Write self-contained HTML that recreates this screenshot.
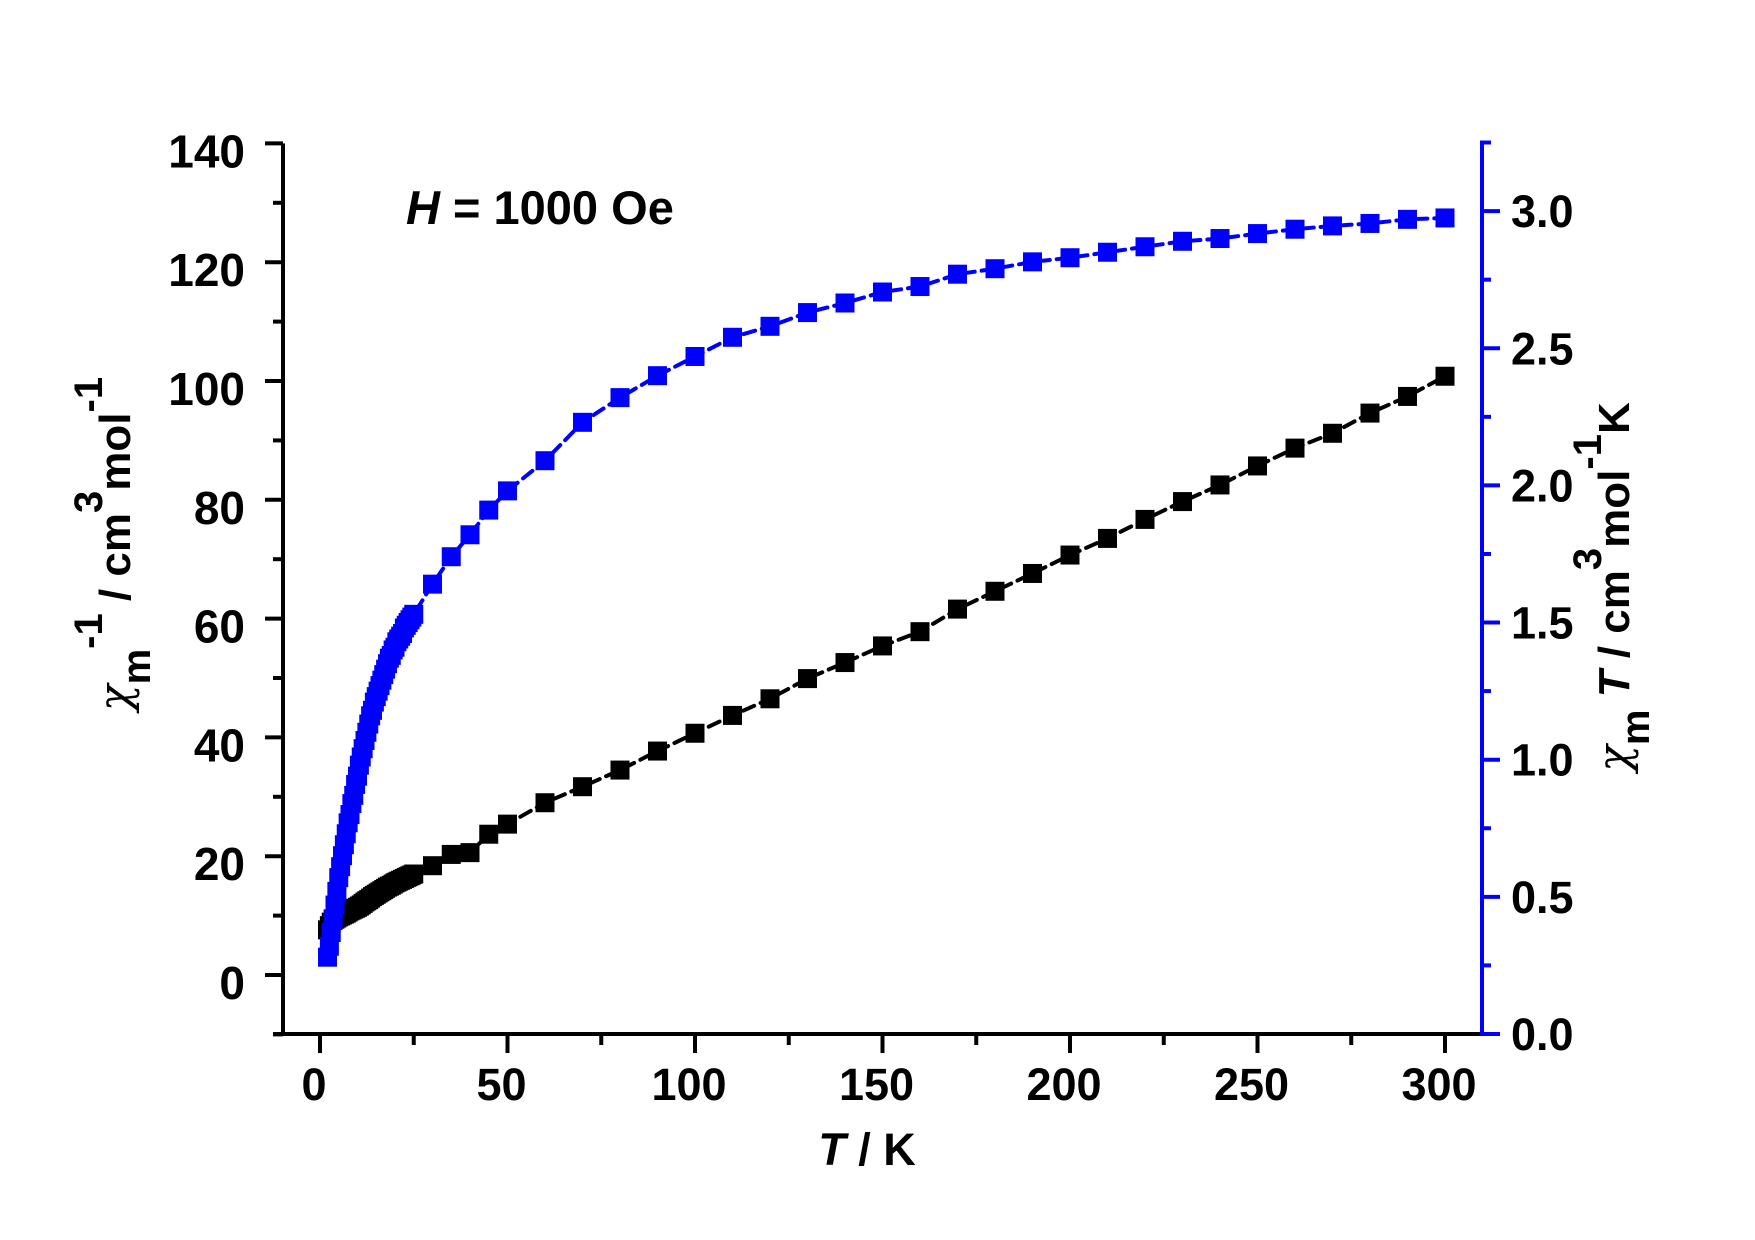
<!DOCTYPE html>
<html><head><meta charset="utf-8"><style>
html,body{margin:0;padding:0;background:#fff;}
svg{display:block;font-family:"Liberation Sans",Arial,sans-serif;font-weight:bold;}
</style></head><body>
<svg id="chart" width="1755" height="1240" viewBox="0 0 1755 1240" xmlns="http://www.w3.org/2000/svg">
<rect width="1755" height="1240" fill="#fff"/>
<g id="axes"></g>
<g id="series"></g>
<text x="406" y="224" font-size="47"><tspan font-style="italic">H</tspan> = 1000 Oe</text>
<text x="867" y="1165" font-size="45" text-anchor="middle"><tspan font-style="italic">T</tspan> / K</text>
<text transform="translate(130,544) rotate(-90)" font-size="44" text-anchor="middle"><tspan font-family="'DejaVu Serif',serif" font-style="italic" font-weight="normal">χ</tspan><tspan dy="20" font-size="40">m</tspan><tspan dy="-48" font-size="40">-1</tspan><tspan dy="28"> / cm</tspan><tspan dy="-28" font-size="40">3</tspan><tspan dy="28">mol</tspan><tspan dy="-28" font-size="40">-1</tspan></text>
<text transform="translate(1629,587) rotate(-90)" font-size="44" text-anchor="middle"><tspan font-family="'DejaVu Serif',serif" font-style="italic" font-weight="normal">χ</tspan><tspan dy="20" font-size="40">m</tspan><tspan dy="-20"> </tspan><tspan font-style="italic">T</tspan><tspan> / cm</tspan><tspan dy="-28" font-size="40">3</tspan><tspan dy="28">mol</tspan><tspan dy="-28" font-size="40">-1</tspan><tspan dy="28">K</tspan></text>
</svg>
<script>
const temps = [2,2.5,3,3.5,4,4.5,5,5.5,6,6.5,7,7.5,8,8.5,9,9.5,10,10.5,11,11.5,12,12.5,13,13.5,14,14.5,15,15.5,16,16.5,17,17.5,18,18.5,19,19.5,20,20.5,21,21.5,22,22.5,23,23.5,24,24.5,25,30,35,40,45,50,60,70,80,90,100,110,120,130,140,150,160,170,180,190,200,210,220,230,240,250,260,270,280,290,300];
const invChi = [7.6,8.3,8.9,9.2,9.4,9.6,9.8,9.95,10.1,10.25,10.4,10.6,10.8,10.95,11.1,11.25,11.4,11.6,11.8,12.05,12.3,12.5,12.7,12.95,13.2,13.4,13.6,13.8,14.0,14.2,14.4,14.6,14.8,14.95,15.1,15.3,15.5,15.65,15.8,15.95,16.1,16.25,16.4,16.55,16.7,16.85,17.0,18.4,20.3,20.6,23.7,25.4,29.0,31.7,34.5,37.7,40.7,43.7,46.5,49.9,52.6,55.4,57.8,61.6,64.6,67.6,70.7,73.5,76.7,79.7,82.5,85.7,88.7,91.2,94.6,97.4,100.8];
const chiT = [0.28,0.32,0.37,0.42,0.47,0.52,0.57,0.61,0.65,0.69,0.73,0.77,0.80,0.84,0.87,0.91,0.94,0.98,1.01,1.04,1.07,1.10,1.13,1.16,1.18,1.21,1.23,1.25,1.27,1.29,1.31,1.33,1.35,1.37,1.38,1.40,1.41,1.43,1.44,1.45,1.46,1.48,1.49,1.50,1.51,1.52,1.53,1.64,1.74,1.82,1.91,1.98,2.09,2.23,2.32,2.40,2.47,2.54,2.58,2.63,2.665,2.705,2.725,2.77,2.79,2.815,2.83,2.85,2.87,2.89,2.90,2.918,2.934,2.946,2.955,2.97,2.975];
const xTicks = [0,50,100,150,200,250,300];
const leftTicks = [0,20,40,60,80,100,120,140];
const rightTicks = ["0.0","0.5","1.0","1.5","2.0","2.5","3.0"];

const NS="http://www.w3.org/2000/svg";
const xS = t => 320 + 3.75*t;
const yL = v => 975 - 5.94*v;
const yR = v => 1034 - 274.3*v;
function mk(tag, attrs, parent){const e=document.createElementNS(NS,tag);for(const k in attrs)e.setAttribute(k,attrs[k]);parent.appendChild(e);return e;}
const axes=document.getElementById('axes'), ser=document.getElementById('series');

let e;
e=mk('line',{x1:283,y1:yL(140),x2:283,y2:1036,stroke:'#000','stroke-width':4},axes);


e=mk('line',{x1:273,y1:1034,x2:1484,y2:1034,stroke:'#000','stroke-width':4},axes);


e=mk('line',{x1:1482,y1:yR(3.25)-2,x2:1482,y2:1036,stroke:'#0000ff','stroke-width':4},axes);



for(let t=0;t<=300;t+=25){const major=t%50===0;
 e=mk('line',{x1:xS(t),y1:1034,x2:xS(t),y2:major?1053:1045,stroke:'#000','stroke-width':4},axes);
 
 }
xTicks.forEach(t=>{e=mk('text',{x:xS(t)-6,y:1100,'font-size':45,'text-anchor':'middle'},axes);e.textContent=t;
 
 });
for(let v=-10;v<=140;v+=10){const major=v%20===0;
 e=mk('line',{x1:major?265:273,y1:yL(v),x2:283,y2:yL(v),stroke:'#000','stroke-width':4},axes);
 
 }
leftTicks.forEach(v=>{e=mk('text',{x:245,y:yL(v)+24,'font-size':46,'text-anchor':'end'},axes);e.textContent=v;
 
 });
for(let i=0;i<=13;i++){const v=i*0.25;const major=i%2===0;
 e=mk('line',{x1:1482,y1:yR(v),x2:major?1500:1491,y2:yR(v),stroke:'#0000ff','stroke-width':4},axes);
 
 }
rightTicks.forEach(s=>{e=mk('text',{x:1511,y:yR(parseFloat(s))+16,'font-size':45},axes);e.textContent=s;
 
 });

function drawSeries(vals, yf, color, name){
 const pts=temps.map((t,i)=>xS(t)+','+yf(vals[i])).join(' ');
 e=mk('polyline',{points:pts,fill:'none',stroke:color,'stroke-width':4,'stroke-dasharray':'12 7','stroke-linecap':'round'},ser);
 
 
 temps.forEach((t,i)=>{
  e=mk('rect',{x:xS(t)-9.5,y:yf(vals[i])-9.5,width:19,height:19,fill:color},ser);
  
  
 });
}
drawSeries(invChi,yL,'#000','inverse-chi');
drawSeries(chiT,yR,'#0000ff','chi-t');
</script>
</body></html>
